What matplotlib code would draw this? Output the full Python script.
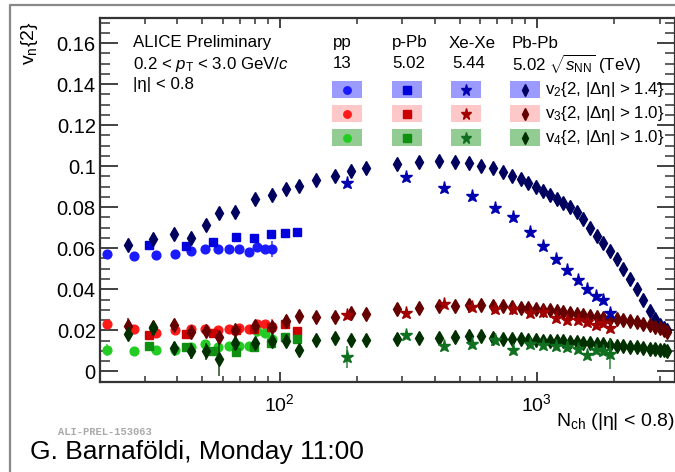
import matplotlib
matplotlib.use("Agg")
import matplotlib.pyplot as plt
from matplotlib.lines import Line2D
from matplotlib.patches import Rectangle
from matplotlib.ticker import MultipleLocator, FuncFormatter, NullFormatter, LogLocator

plt.rcParams['font.family'] = ['Liberation Sans', 'DejaVu Sans']
plt.rcParams['mathtext.fontset'] = 'custom'
plt.rcParams['mathtext.rm'] = 'Liberation Sans'
plt.rcParams['mathtext.it'] = 'Liberation Sans:italic'
plt.rcParams['mathtext.bf'] = 'Liberation Sans:bold'

# pp 13 TeV
pp_nch = [21.2, 27.1, 32.9, 39.0, 45.1, 51.1, 57.5, 63.6, 69.5, 75.7, 81.6, 87.4, 93.3]
pp_v2 = [0.0570, 0.0564, 0.0566, 0.0570, 0.0585, 0.0598, 0.0595, 0.0595, 0.0597, 0.0580, 0.0605, 0.0598, 0.0597]
pp_v3 = [0.0229, 0.0204, 0.0188, 0.0203, 0.0207, 0.0205, 0.0200, 0.0208, 0.0211, 0.0208, 0.0229, 0.0229, 0.0216]
pp_v4 = [0.0104, 0.0099, 0.0102, 0.0106, 0.0120, 0.0135, 0.0119, 0.0122, 0.0125, 0.0125, 0.0198, 0.0185, 0.0160]
pp_v2_err = [0, 0, 0, 0, 0, 0, 0, 0, 0, 0, 0.002, 0, 0.004]
pp_v3_err = [0, 0, 0, 0, 0, 0, 0, 0, 0, 0, 0.002, 0, 0.004]
pp_v4_err = [0.003, 0, 0, 0, 0, 0, 0, 0, 0, 0, 0.003, 0, 0.003]

# p-Pb 5.02 TeV
ppb_nch = [31.0, 43.1, 54.9, 67.3, 79.4, 92.3, 104.6, 116.8]
ppb_v2 = [0.0618, 0.0613, 0.0631, 0.0655, 0.0652, 0.0667, 0.0675, 0.0680]
ppb_v3 = [0.0178, 0.0180, 0.0186, 0.0203, 0.0208, 0.0215, 0.0233, 0.0197]
ppb_v4 = [0.0124, 0.0118, 0.0099, 0.0093, 0.0119, 0.0137, 0.0168, 0.0160]

# Xe-Xe 5.44 TeV
xexe_nch = [182.7, 310.0, 434.6, 561.0, 686.6, 808.7, 936.8, 1055, 1186, 1314, 1440, 1569, 1692, 1811, 1923]
xexe_v2 = [0.0920, 0.0945, 0.0894, 0.0854, 0.0794, 0.0753, 0.0678, 0.0612, 0.0546, 0.0496, 0.0447, 0.0401, 0.0366, 0.0346, 0.0284]
xexe_v3 = [0.0273, 0.0285, 0.0326, 0.0313, 0.0306, 0.0302, 0.0286, 0.0288, 0.0262, 0.0249, 0.0249, 0.0240, 0.0224, 0.0236, 0.0213]
xexe_v4 = [0.0070, 0.0176, 0.0122, 0.0132, 0.0155, 0.0102, 0.0132, 0.0127, 0.0122, 0.0119, 0.0111, 0.0078, 0.0105, 0.0098, 0.0086]
xexe_v4_err = [0.0055, 0, 0, 0, 0, 0, 0, 0, 0, 0, 0, 0, 0, 0, 0.0077]

# Pb-Pb 5.02 TeV
pbpb_nch = [25.7, 32.1, 38.7, 45.0, 51.5, 58.0, 67.2, 80.1, 93.1, 106.2,
            118.9, 138.0, 163.7, 190.1, 215.6, 286.6, 348.4, 415.6, 479.7, 543.8,
            607.3, 673.0, 737.4, 801.7, 864.5, 926.7, 989.3, 1058, 1124, 1193,
            1266, 1344, 1427, 1515, 1608, 1707, 1811, 1923, 2042, 2167,
            2301, 2443, 2592, 2752, 2878, 3010, 3120, 3205]
pbpb_v2 = [0.0615, 0.0644, 0.0667, 0.0652, 0.0712, 0.0774, 0.0777, 0.0842, 0.0859, 0.0890,
           0.0903, 0.0932, 0.0953, 0.0976, 0.0989, 0.1012, 0.1018, 0.1025, 0.1021, 0.1013,
           0.1001, 0.0989, 0.0970, 0.0954, 0.0937, 0.0920, 0.0900, 0.0880, 0.0861, 0.0842,
           0.0822, 0.0800, 0.0776, 0.0740, 0.0700, 0.0660, 0.0625, 0.0585, 0.0548, 0.0500,
           0.0450, 0.0400, 0.0350, 0.0295, 0.0255, 0.0228, 0.0212, 0.0203]
pbpb_v3 = [0.0222, 0.0215, 0.0224, 0.0193, 0.0198, 0.0167, 0.0203, 0.0220, 0.0215, 0.0245,
           0.0269, 0.0265, 0.0265, 0.0283, 0.0281, 0.0303, 0.0309, 0.0319, 0.0319, 0.0322,
           0.0322, 0.0319, 0.0317, 0.0314, 0.0311, 0.0309, 0.0306, 0.0301, 0.0297, 0.0292,
           0.0287, 0.0283, 0.0278, 0.0274, 0.0270, 0.0265, 0.0261, 0.0257, 0.0253, 0.0249,
           0.0243, 0.0238, 0.0233, 0.0226, 0.0218, 0.0210, 0.0200, 0.0193]
pbpb_v4 = [0.0182, 0.0213, 0.0113, 0.0100, 0.0097, 0.0058, 0.0137, 0.0137, 0.0147, 0.0148,
           0.0104, 0.0155, 0.0162, 0.0155, 0.0155, 0.0160, 0.0163, 0.0163, 0.0167, 0.0172,
           0.0171, 0.0164, 0.0156, 0.0156, 0.0160, 0.0155, 0.0151, 0.0148, 0.0150, 0.0148,
           0.0146, 0.0144, 0.0141, 0.0138, 0.0136, 0.0133, 0.0131, 0.0128, 0.0125, 0.0122,
           0.0119, 0.0117, 0.0114, 0.0111, 0.0108, 0.0105, 0.0102, 0.0099]
# errors on the lowest Pb-Pb bins only
pbpb_v3_err = [0.004, 0.002, 0.002, 0.002, 0.002, 0.003, 0.002, 0.002]
pbpb_v4_err = [0.003, 0.003, 0.003, 0.004, 0.004, 0.008, 0.002, 0.002]

col_pp = ['#1a1aff', '#ff1a1a', '#22cc22']
col_ppb = ['#0000dd', '#cc0000', '#109010']
col_xexe = ['#0000b0', '#a00000', '#107020']
col_pbpb = ['#00005e', '#640000', '#003000']
box_cols = ['#9a9aff', '#ffc8c8', '#92cc92']

W, H = 675, 472
fig = plt.figure(figsize=(W / 100, H / 100), dpi=100)


def fx(px):
    return px / W


def fy(py):
    return 1 - py / H


ax = fig.add_axes([fx(100), fy(382), fx(675) - fx(100), fy(18) - fy(382)])
ax.set_xscale('log')
ax.set_xlim(20, 3443)
ax.set_ylim(-0.0052, 0.1722)


def draw(x, y, color, marker, ms, err=None):
    if err is not None:
        ax.errorbar(x[:len(err)], y[:len(err)], yerr=err, fmt='none',
                    ecolor=color, elinewidth=1.2, alpha=0.8)
    ax.plot(x, y, ls='none', marker=marker, ms=ms, color=color, mec=color)


d_ms = 6.8
draw(pp_nch, pp_v2, col_pp[0], 'o', 6.3, pp_v2_err)
draw(pp_nch, pp_v3, col_pp[1], 'o', 6.3, pp_v3_err)
draw(pp_nch, pp_v4, col_pp[2], 'o', 6.3, pp_v4_err)
draw(ppb_nch, ppb_v2, col_ppb[0], 's', 6.0)
draw(ppb_nch, ppb_v3, col_ppb[1], 's', 6.0)
draw(ppb_nch, ppb_v4, col_ppb[2], 's', 6.0)
draw(pbpb_nch, pbpb_v2, col_pbpb[0], 'd', d_ms)
draw(pbpb_nch, pbpb_v3, col_pbpb[1], 'd', d_ms, pbpb_v3_err)
draw(pbpb_nch, pbpb_v4, col_pbpb[2], 'd', d_ms, pbpb_v4_err)
draw(xexe_nch, xexe_v2, col_xexe[0], '*', 9.5)
draw(xexe_nch, xexe_v3, col_xexe[1], '*', 9.5)
draw(xexe_nch, xexe_v4, col_xexe[2], '*', 9.5, xexe_v4_err)

# ROOT-like axes: ticks inside on all four sides
ax.yaxis.set_major_locator(MultipleLocator(0.02))
ax.yaxis.set_minor_locator(MultipleLocator(0.005))
ax.yaxis.set_major_formatter(FuncFormatter(lambda v, _: '%g' % round(v, 3)))
ax.xaxis.set_major_locator(LogLocator(base=10))
ax.xaxis.set_minor_locator(LogLocator(base=10, subs=range(2, 10)))
ax.xaxis.set_minor_formatter(NullFormatter())
ax.tick_params(which='both', direction='in', top=True, right=True, color='#333333')
ax.tick_params(axis='y', which='major', length=13, width=1.3, labelsize=14.5, pad=3)
ax.tick_params(axis='y', which='minor', length=7, width=1.1)
ax.tick_params(axis='x', which='major', length=7.5, width=1.3, labelsize=14, pad=8)
ax.tick_params(axis='x', which='minor', length=4, width=1.1)
for sp in ax.spines.values():
    sp.set_linewidth(1.6)
    sp.set_color('#333333')

fig.text(fx(30), fy(22), r'v$_{\mathrm{n}}${2}', rotation=90, ha='center', va='top', fontsize=14)
fig.text(fx(675), fy(421), r'N$_{\mathrm{ch}}$ (|η| < 0.8)', ha='right', va='center', fontsize=14)

# header text
fs = 12.2
fig.text(fx(133), fy(43), 'ALICE Preliminary', ha='left', va='center', fontsize=fs)
fig.text(fx(133), fy(64), r'0.2 < $\it{p}_{\mathrm{T}}$ < 3.0 GeV/$\it{c}$', ha='left', va='center', fontsize=fs)
fig.text(fx(133), fy(85), '|η| < 0.8', ha='left', va='center', fontsize=fs)

systems = ['pp', 'p-Pb', 'Xe-Xe', 'Pb-Pb']
energies = ['13', '5.02', '5.44', r'5.02 $\sqrt{s_{\mathrm{NN}}}$ (TeV)']
sys_x = [333, 392, 449, 512]
box_x = [347, 407, 466, 525]
row_y = [89.5, 113.5, 137.5]
markers = [('o', 6.3), ('s', 6.0), ('*', 9.5), ('d', d_ms)]
colors = [col_pp, col_ppb, col_xexe, col_pbpb]
row_labels = [r'v$_2${2, |Δη| > 1.4}', r'v$_3${2, |Δη| > 1.0}', r'v$_4${2, |Δη| > 1.0}']

for i in range(4):
    fig.text(fx(sys_x[i]), fy(43), systems[i], ha='left', va='center', fontsize=fs)
    fig.text(fx(sys_x[i] + (3 if i == 2 else 0)), fy(64), energies[i], ha='left', va='center', fontsize=fs)
    for j in range(3):
        fig.add_artist(Rectangle((fx(box_x[i] - 15), fy(row_y[j] + 8.5)), fx(30), 17 / H,
                                 transform=fig.transFigure, color=box_cols[j], lw=0))
        m, ms = markers[i]
        fig.add_artist(Line2D([fx(box_x[i])], [fy(row_y[j])], marker=m, ms=ms * 0.85,
                              color=colors[i][j], transform=fig.transFigure))
for j in range(3):
    fig.text(fx(545), fy(row_y[j]), row_labels[j], ha='left', va='center', fontsize=fs)

# slide decorations
fig.add_artist(Line2D([fx(10), fx(10), fx(675)], [fy(472), fy(5), fy(5)], color='#888888',
                      lw=1.6, transform=fig.transFigure))
fig.text(fx(58), fy(432), 'ALI-PREL-153063', ha='left', va='center', fontsize=7.5,
         family='Liberation Mono', color='#a8a8a8', fontweight='bold')
fig.text(fx(30), fy(452), 'G. Barnaföldi, Monday 11:00', ha='left', va='center', fontsize=19)

fig.savefig('out.png', dpi=100)
